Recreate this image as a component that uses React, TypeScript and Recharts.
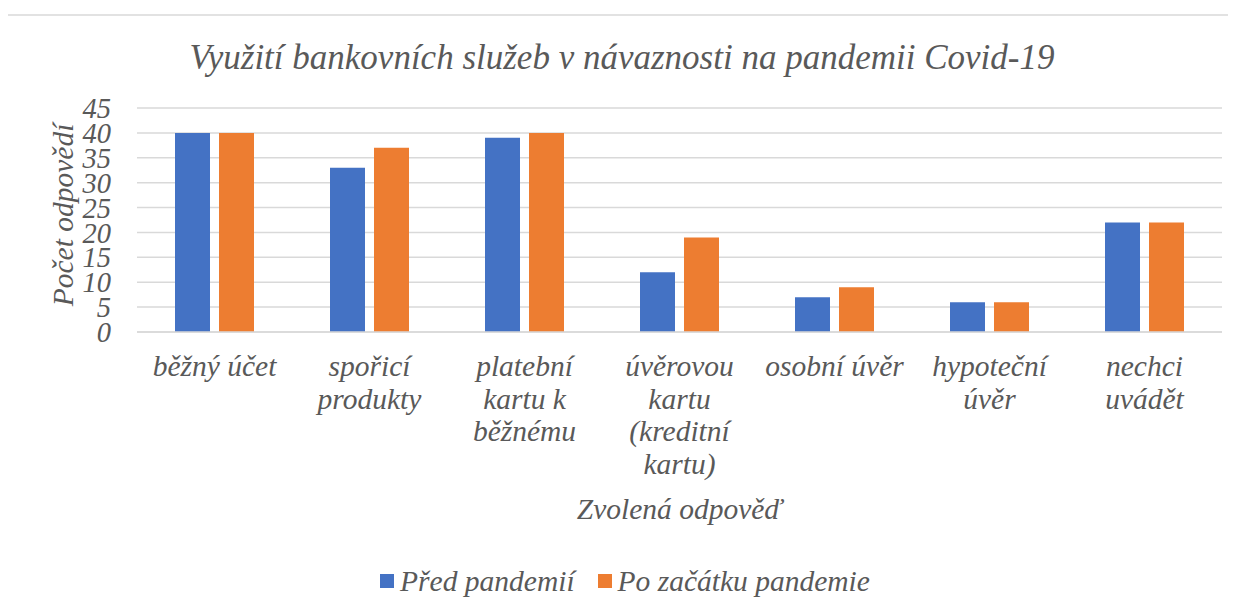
import React from "react";
import { BarChart, Bar, XAxis, YAxis, CartesianGrid, Legend } from "recharts";

const categories = [
  "běžný účet",
  "spořicí\nprodukty",
  "platební\nkartu k\nběžnému",
  "úvěrovou\nkartu\n(kreditní\nkartu)",
  "osobní úvěr",
  "hypoteční\núvěr",
  "nechci\nuvádět",
];
const predPandemii = [40, 33, 39, 12, 7, 6, 22];
const poZacatku = [40, 37, 40, 19, 9, 6, 22];
const yTicks = [0, 5, 10, 15, 20, 25, 30, 35, 40, 45];

const seriesNames = ["Před pandemií", "Po začátku pandemie"];
const colors = ["#4472C4", "#ED7D31"];

const data = categories.map((c, i) => ({
  name: c,
  pred: predPandemii[i],
  po: poZacatku[i],
}));

const FONT = "Liberation Serif";
const TEXT = "#595959";
const FS = 29.5;

const XTick = (props: any) => {
  const { x, y, payload } = props;
  const lines = String(payload.value).split("\n");
  return (
    <g>
      {lines.map((l: string, i: number) => (
        <text
          key={i}
          x={x}
          y={y + 36 + i * 32.5}
          textAnchor="middle"
          fill={TEXT}
          style={{ fontFamily: FONT, fontStyle: "italic", fontSize: FS }}
        >
          {l}
        </text>
      ))}
    </g>
  );
};

const LegendContent = () => (
  <div
    style={{
      display: "flex",
      justifyContent: "center",
      alignItems: "center",
      fontFamily: FONT,
      fontStyle: "italic",
      fontSize: FS,
      color: TEXT,
      height: 40,
      paddingLeft: 20,
    }}
  >
    {seriesNames.map((n, i) => (
      <div key={n} style={{ display: "flex", alignItems: "center", marginRight: i === 0 ? 23 : 0 }}>
        <span style={{ width: 14, height: 14, background: colors[i], display: "inline-block", marginRight: 6 }} />
        <span>{n}</span>
      </div>
    ))}
  </div>
);

export default function App() {
  return (
    <div
      style={{
        position: "relative",
        marginLeft: -2,
        marginTop: 6,
        width: 1240,
        height: 600,
        borderTop: "2px solid #e2e2e2",
        borderLeft: "2px solid #e2e2e2",
        boxSizing: "border-box",
        fontFamily: FONT,
      }}
    >
      <div
        style={{
          position: "absolute",
          left: 0,
          width: 1240,
          top: 22,
          textAlign: "center",
          fontFamily: FONT,
          fontStyle: "italic",
          fontSize: 35,
          color: TEXT,
          whiteSpace: "nowrap",
          paddingRight: 12,
          boxSizing: "border-box",
        }}
      >
        Využití bankovních služeb v návaznosti na pandemii Covid-19
      </div>
      <BarChart
        width={1228}
        height={595}
        data={data}
        margin={{ top: 92, right: 14, left: 0, bottom: 10 }}
        barGap={9}
        barSize={35}
        style={{ fontFamily: FONT }}
      >
        <CartesianGrid vertical={false} stroke="#d9d9d9" strokeWidth={1.5} />
        <XAxis
          dataKey="name"
          interval={0}
          height={229}
          axisLine={{ stroke: "#d9d9d9", strokeWidth: 1.5 }}
          tickLine={false}
          tick={<XTick />}
          label={{
            content: (p: any) => {
              const vb = p.viewBox;
              return (
                <text
                  x={vb.x + vb.width / 2}
                  y={vb.y + 187}
                  textAnchor="middle"
                  fill={TEXT}
                  style={{ fontFamily: FONT, fontStyle: "italic", fontSize: FS }}
                >
                  Zvolená odpověď
                </text>
              );
            },
          }}
        />
        <YAxis
          width={129}
          domain={[0, 45]}
          ticks={yTicks}
          interval={0}
          axisLine={false}
          tickLine={false}
          tickSize={0}
          tickMargin={26}
          tick={{ fill: TEXT, style: { fontFamily: FONT, fontStyle: "italic", fontSize: 28.5 } }}
          label={{
            content: (p: any) => {
              const vb = p.viewBox;
              const cy = vb.y + vb.height / 2 - 5;
              return (
                <text
                  x={55}
                  y={cy}
                  transform={`rotate(-90, 55, ${cy})`}
                  textAnchor="middle"
                  dominantBaseline="central"
                  fill={TEXT}
                  style={{ fontFamily: FONT, fontStyle: "italic", fontSize: FS }}
                >
                  Počet odpovědí
                </text>
              );
            },
          }}
        />
        <Legend verticalAlign="bottom" content={<LegendContent />} />
        <Bar dataKey="pred" name={seriesNames[0]} fill={colors[0]} isAnimationActive={false} />
        <Bar dataKey="po" name={seriesNames[1]} fill={colors[1]} isAnimationActive={false} />
      </BarChart>
    </div>
  );
}
